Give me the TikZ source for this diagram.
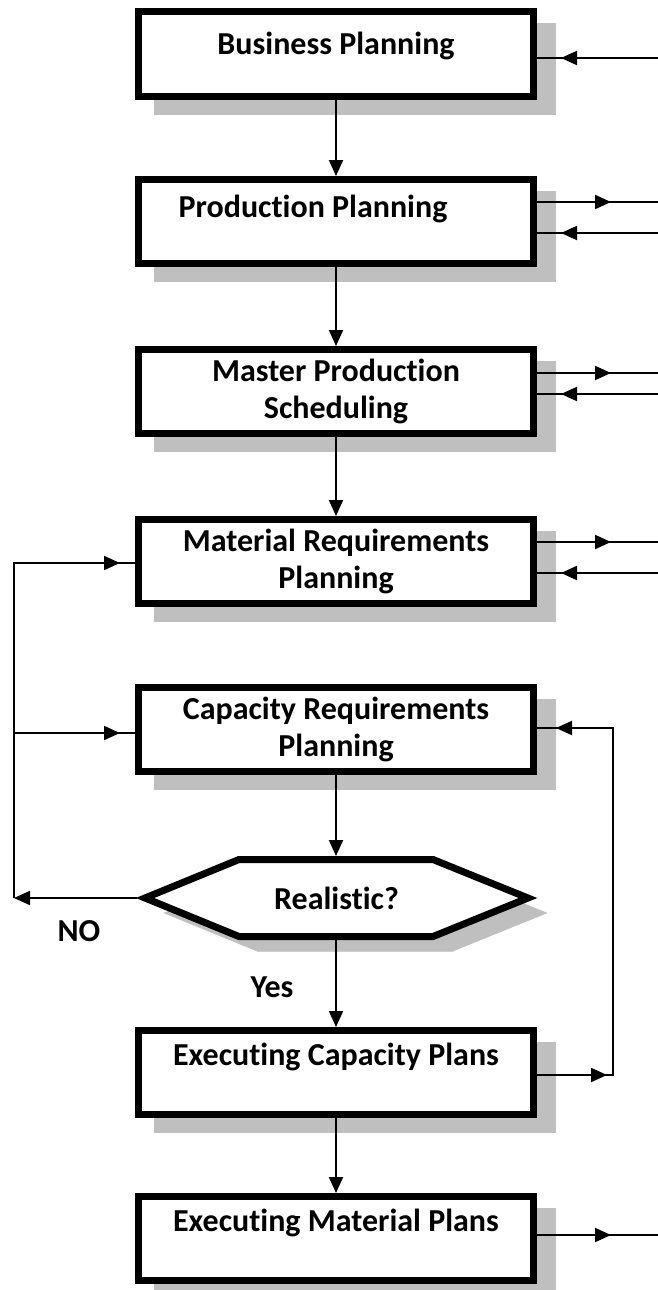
\documentclass[tikz,border=0pt]{standalone}
\usepackage{fontspec}
\setmainfont{Carlito}[Ligatures = NoCommon]
\usetikzlibrary{arrows.meta,shadows}
\tikzset{
  boxshadow/.style = {drop shadow = {shadow xshift = 19pt, shadow yshift = -15pt, fill = black!25, draw = black!25, opacity = 1}},
  stage/.style = {boxshadow, draw = black, fill = white, line width = 7pt, minimum width = 395pt, minimum height = 84pt, inner sep = 0pt, align = center, font = \bfseries\fontsize{32pt}{37pt}\selectfont},
  hexline/.style = {boxshadow, draw = black, fill = white, line width = 7pt, line join = miter},
  flow/.style = {line width = 2pt, -{Triangle[length = 16pt, width = 14pt]}},
  wire/.style = {line width = 1.5pt},
  tag/.style = {font = \bfseries\fontsize{32pt}{37pt}\selectfont}
}
\begin{document}
\begin{tikzpicture}[x = 1pt, y = -1pt]
\useasboundingbox (0,0) rectangle (658,1290);
\node[stage] (plan) at (336,54) {Business Planning\\[-16pt]~};
\node[stage] (prod) at (336,221.5) {Production Planning\hspace*{46pt}\\[-6pt]~};
\node[stage] (mps) at (336,391.5) {Master Production\\Scheduling};
\node[stage] (mrp) at (336,561.5) {Material Requirements\\Planning};
\node[stage] (crp) at (336,729.5) {Capacity Requirements\\Planning};
\draw[hexline] (145,898) -- (239,859.5) -- (433,859.5) -- (528,898) -- (433,936.5) -- (239,936.5) -- cycle;
\coordinate (realN) at (336,856);
\coordinate (realS) at (336,940);
\coordinate (realW) at (137,898);
\node[tag] (real) at (336.5,898) {Realistic?};
\node[stage] (execcap) at (336,1072.5) {Executing Capacity Plans\\~};
\node[stage] (execmat) at (336,1238.5) {Executing Material Plans\\~};
\node[tag] (no) at (79,931) {NO};
\node[tag] (yes) at (272,987) {Yes};
\foreach \a/\b in {plan/prod, prod/mps, mps/mrp, execcap/execmat}
  \draw[flow] (\a.south) -- (\b.north);
\draw[flow] (crp.south) -- (realN);
\draw[flow] (realS) -- (execcap.north);
\foreach \n/\y in {plan/58, prod/233, mps/394, mrp/573} {
  \coordinate (in-\n) at (658,\y);
  \draw[wire] (in-\n) -- (\n.east |- in-\n);
  \draw[flow] (in-\n) -- (561,\y);
}
\foreach \n/\y in {prod/202, mps/373, mrp/542, execmat/1235} {
  \coordinate (out-\n) at (658,\y);
  \draw[wire] (\n.east |- out-\n) -- (out-\n);
  \draw[flow] (\n.east |- out-\n) -- (611,\y);
}
\coordinate (back) at (14,898);
\draw[flow] (realW) -- (back);
\draw[wire] (back) -- (back |- 0,563) -- (mrp.west |- 0,563);
\draw[flow] (back |- 0,563) -- (120,563);
\draw[wire] (back |- 0,733) -- (crp.west |- 0,733);
\draw[flow] (back |- 0,733) -- (120,733);
\coordinate (loop) at (613,1075);
\draw[wire] (execcap.east |- loop) -- (loop) -- (loop |- 0,728) -- (crp.east |- 0,728);
\draw[flow] (execcap.east |- loop) -- (607,1075);
\draw[flow] (loop |- 0,728) -- (556,728);
\end{tikzpicture}
\end{document}
